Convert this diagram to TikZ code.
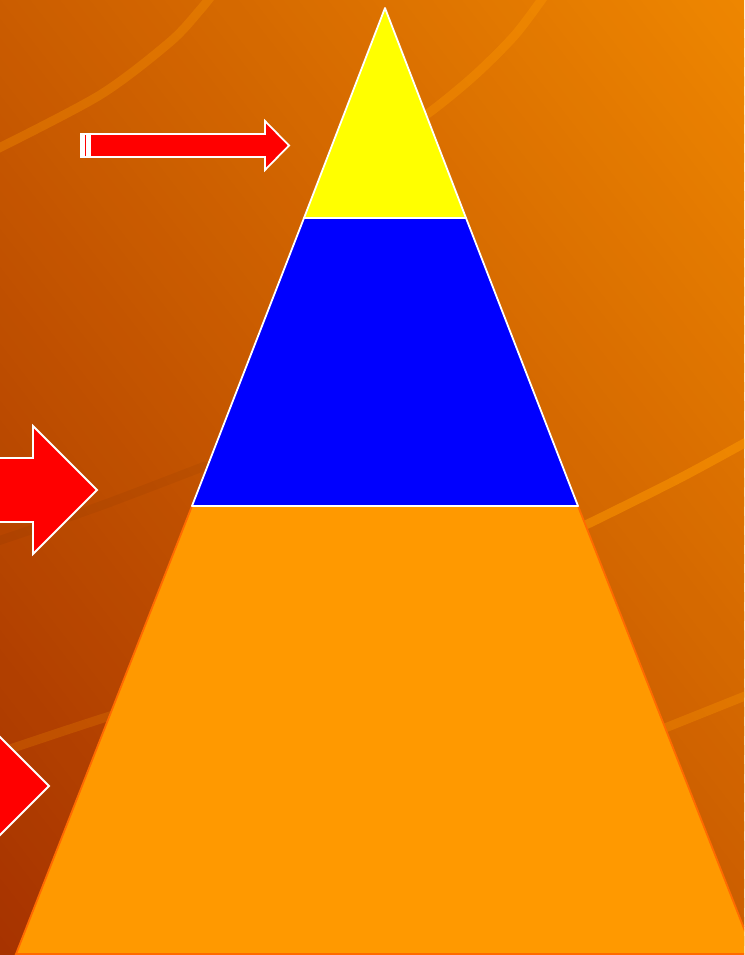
\documentclass[tikz,border=0pt]{standalone}
\usepackage{xcolor}
\usepackage{tikz}
\definecolor{bglight}{HTML}{EE8600}
\definecolor{bgdark}{HTML}{A63200}
\definecolor{bandcol}{HTML}{FF9A00}
\definecolor{tierorange}{HTML}{FF9900}
\definecolor{tieredge}{HTML}{FF6A00}
\definecolor{tieryellow}{HTML}{FFFF00}
\definecolor{tierblue}{HTML}{0000FF}

\begin{document}
\begin{tikzpicture}[x=1pt,y=-1pt,
  band/.style={line width=9pt,draw=bandcol,line cap=round},
  redarrow/.style={fill=red,draw=white,line width=1.8pt,line join=miter},
  tier/.style={draw=white,line width=1.8pt,line join=round}]
\useasboundingbox (0,0) rectangle (744,955);
\clip (0,0) rectangle (744,955);
% background
\foreach \k in {0,...,99}{
  \pgfmathsetmacro\ua{\k*0.02}
  \pgfmathsetmacro\ub{\k*0.02+0.03}
  \fill[bgdark!\k!bglight] (-744*\ua,-955) -- (2232-744*\ua,1910) -- (2232-744*\ub,1910) -- (-744*\ub,-955) -- cycle;
}
\draw[band,opacity=0.3] plot[smooth] coordinates {(-5,150) (100,95) (170,42) (200,10) (212,-5)};
\draw[band,opacity=0.35] plot[smooth] coordinates {(545,-5) (515,35) (475,75) (430,112) (380,145)};
\draw[band,opacity=0.5] plot[smooth] coordinates {(560,537) (600,518) (682,477) (750,440)};
\draw[band,draw=black,opacity=0.04] plot[smooth] coordinates {(-5,542) (100,506) (205,466)};
\draw[band,opacity=0.2] plot[smooth] coordinates {(-5,754) (110,716) (200,690)};
\draw[band,opacity=0.3] plot[smooth] coordinates {(640,738) (700,714) (750,694)};

% pyramid
\coordinate (apex) at (385,8);
\coordinate (yl) at (304,218);
\coordinate (yr) at (466,218);
\coordinate (bl) at (192,506);
\coordinate (br) at (578,506);
\coordinate (ol) at (16,954);
\coordinate (or) at (754,954);
\draw[fill=tierorange,draw=tieredge,line width=1.8pt] (bl) -- (br) -- (or) -- (ol) -- cycle;
\draw[tier,fill=tierblue] (yl) -- (yr) -- (br) -- (bl) -- cycle;
\draw[tier,fill=tieryellow] (apex) -- (yr) -- (yl) -- cycle;

% arrows
\fill[white] (80,133) rectangle (90,158);
\fill[red] (85,135) rectangle (86,156);
\draw[redarrow] (90,134) -- (265,134) -- (265,121) -- (289,145.5) -- (265,170) -- (265,157) -- (90,157) -- cycle;
\draw[redarrow] (-10,458) -- (33,458) -- (33,426) -- (97,490) -- (33,554) -- (33,522) -- (-10,522) -- cycle;
\draw[redarrow] (-60,754) -- (-15,754) -- (-15,722) -- (49,786) -- (-15,850) -- (-15,818) -- (-60,818) -- cycle;
\end{tikzpicture}
\end{document}
